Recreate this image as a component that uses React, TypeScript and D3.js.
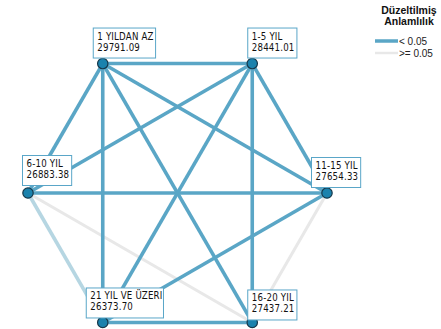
import React, { useEffect, useRef } from "react";
import * as d3 from "d3";

const categories = ["1 YILDAN AZ", "1-5 YIL", "11-15 YIL", "16-20 YIL", "21 YIL VE ÜZERI", "6-10 YIL"];
const meanRanks = ["29791.09", "28441.01", "27654.33", "27437.21", "26373.70", "26883.38"];
// pairwise comparisons: [from, to, significance class]
const edgeFrom = [0, 0, 0, 0, 0, 1, 1, 1, 1, 5, 4, 4, 5, 5, 3];
const edgeTo = [1, 2, 3, 4, 5, 5, 4, 3, 2, 2, 3, 2, 4, 3, 2];
const edgeSig = ["sig", "sig", "sig", "sig", "sig", "sig", "sig", "sig", "sig", "sig", "sig", "sig", "weak", "ns", "ns"];
const legendTitle = ["Düzeltilmiş", "Anlamlılık"];
const legendLabels = ["< 0.05", ">= 0.05"];

const W = 441;
const H = 329;
const BLUE = "#5aa6c6";
const PALE = "#b6d6e2";
const GRAY = "#e8e8e8";
const labelDx = [-10, -5, -16, -5, -17, -6];
const labelDy = [-6, -6, -6, -3, -5, -8];

export default function App() {
  const ref = useRef<SVGSVGElement | null>(null);
  useEffect(() => {
    const svg = d3.select(ref.current);
    svg.selectAll("*").remove();
    const cx = 177.5, cy = 193, r = 149.5;
    const angle = d3.scaleLinear().domain([0, 6]).range([120, 120 - 360]);
    const nodes = categories.map((c, i) => {
      const a = (angle(i) * Math.PI) / 180;
      return { name: c, value: meanRanks[i], x: cx + r * Math.cos(a), y: cy - r * Math.sin(a) };
    });
    const edges = edgeFrom.map((f, i) => ({ s: nodes[f], t: nodes[edgeTo[i]], sig: edgeSig[i] }));
    const order = ["ns", "weak", "sig"];
    const sorted = edges.slice().sort((a, b) => order.indexOf(a.sig) - order.indexOf(b.sig));
    const color = (s: string) => (s === "sig" ? BLUE : s === "weak" ? PALE : GRAY);
    const width = (s: string) => (s === "sig" ? 3.6 : s === "weak" ? 3.6 : 3);

    svg
      .append("g")
      .selectAll("line")
      .data(sorted)
      .join("line")
      .attr("x1", (d) => d.s.x)
      .attr("y1", (d) => d.s.y)
      .attr("x2", (d) => d.t.x)
      .attr("y2", (d) => d.t.y)
      .attr("stroke", (d) => color(d.sig))
      .attr("stroke-width", (d) => width(d.sig));

    svg
      .append("g")
      .selectAll("circle")
      .data(nodes)
      .join("circle")
      .attr("cx", (d) => d.x)
      .attr("cy", (d) => d.y)
      .attr("r", 5.2)
      .attr("fill", "#1b82ad")
      .attr("stroke", "#17384a")
      .attr("stroke-width", 1.2);

    const lg = svg.append("g");
    nodes.forEach((n, i) => {
      const g = lg.append("g");
      const rect = g.append("rect").attr("fill", "white").attr("stroke", "#5aa6c8").attr("stroke-width", 1);
      const t = g
        .append("text")
        .attr("font-family", "'DejaVu Sans Condensed', 'DejaVu Sans', sans-serif")
        .attr("font-size", 9.6)
        .attr("fill", "#111");
      t.append("tspan").attr("x", 0).attr("y", 0).text(n.name);
      t.append("tspan").attr("x", 0).attr("y", 11).text(n.value);
      const bb = (t.node() as SVGTextElement).getBBox();
      const bw = bb.width + 8;
      const bh = 30;
      const x0 = n.x + labelDx[i];
      const y0 = n.y + labelDy[i] - bh;
      rect.attr("x", x0 + 0.5).attr("y", y0 + 0.5).attr("width", bw).attr("height", bh);
      t.attr("transform", `translate(${x0 + 4.5},${y0 + 12})`).attr("letter-spacing", 0.2);
    });

    const leg = svg.append("g").attr("font-family", "'Liberation Sans', Arial, sans-serif");
    legendTitle.forEach((s, i) => {
      leg
        .append("text")
        .attr("x", 409)
        .attr("y", 14 + i * 11)
        .attr("text-anchor", "middle")
        .attr("font-size", 10.5)
        .attr("font-weight", "bold")
        .attr("fill", "#111")
        .text(s);
    });
    legendLabels.forEach((s, i) => {
      leg
        .append("line")
        .attr("x1", 375)
        .attr("x2", 398)
        .attr("y1", 41 + i * 12)
        .attr("y2", 41 + i * 12)
        .attr("stroke", i === 0 ? BLUE : GRAY)
        .attr("stroke-width", i === 0 ? 3.5 : 2.5);
      leg
        .append("text")
        .attr("x", 399)
        .attr("y", 45 + i * 12)
        .attr("font-size", 10)
        .attr("fill", "#222")
        .text(s);
    });
  }, []);
  return <svg ref={ref} width={W} height={H} style={{ position: "absolute", left: 0, top: 0, background: "white" }} />;
}
